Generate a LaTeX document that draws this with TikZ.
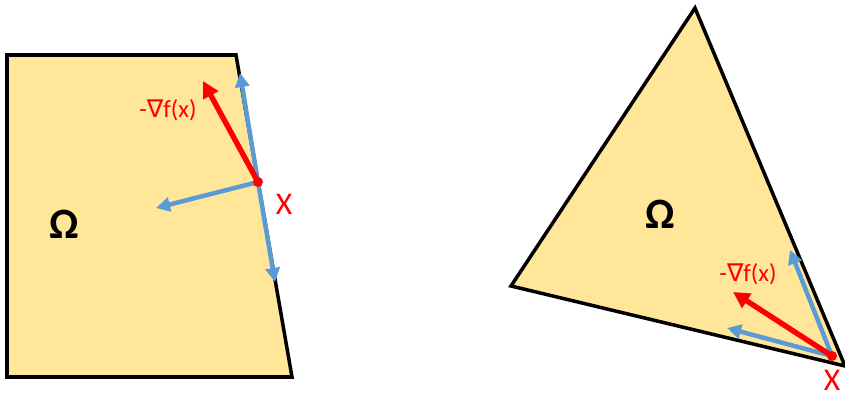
\documentclass[tikz,border=0pt]{standalone}
\usepackage{fontspec}
\setmainfont{Carlito}
\newfontfamily\symfont{DejaVu Sans}
\usepackage{tikz}
\usetikzlibrary{arrows.meta}
\definecolor{SetFill}{HTML}{FFE699}
\definecolor{DirBlue}{HTML}{5B9BD5}
\definecolor{GradRed}{HTML}{FF0000}

\tikzset{
  setedge/.style={draw=black, fill=SetFill, line width=3pt},
  feasdir/.style={DirBlue, line width=3.8pt, -{Triangle[length=12pt, width=12pt]}},
  graddir/.style={GradRed, line width=4.6pt, -{Triangle[length=14pt, width=14pt]}},
  gradlabel/.style={font=\fontsize{21}{21}\selectfont, text=GradRed, inner sep=0pt},
  pointlabel/.style={font=\fontsize{27}{27}\selectfont, text=GradRed, inner sep=0pt},
  setlabel/.style={font=\fontsize{37}{37}\selectfont\bfseries, inner sep=0pt}
}

\begin{document}
\begin{tikzpicture}[x=0.03cm, y=-0.03cm]
  \useasboundingbox (0,0) rectangle (845,396);

  %% Left set: quadrilateral
  \draw[setedge] (7,55) -- (236,55) -- (292,377) -- (7,377) -- cycle;
  \node[setlabel] (omegaL) at (64,224) {Ω};

  %% Boundary point and directions
  \coordinate (xL) at (258,182);
  \coordinate (upL) at (240,73);
  \coordinate (downL) at (275,282);
  \coordinate (inL) at (156,208);
  \coordinate (gradL) at (203,81);
  \draw[feasdir] (xL) -- (upL);
  \draw[feasdir] (xL) -- (downL);
  \draw[feasdir] (xL) -- (inL);
  \draw[graddir] (xL) -- (gradL);
  \fill[GradRed] (xL) circle (5);
  \node[gradlabel] (gradlabL) at (168,110) {-{\symfont∇}f(x)};
  \node[pointlabel] (ptL) at (284,204) {X};

  %% Right set: triangle
  \draw[setedge] (695,8) -- (511,286) -- (845,366) -- cycle;
  \node[setlabel] (omegaR) at (660,214) {Ω};

  %% Vertex point and directions
  \coordinate (xR) at (832,356);
  \coordinate (upR) at (790,250);
  \coordinate (inR) at (727,328);
  \coordinate (gradR) at (733,292);
  \draw[feasdir] (xR) -- (upR);
  \draw[feasdir] (xR) -- (inR);
  \draw[graddir] (xR) -- (gradR);
  \fill[GradRed] (xR) circle (5);
  \node[gradlabel] (gradlabR) at (748,274) {-{\symfont∇}f(x)};
  \node[pointlabel] (ptR) at (832,380) {X};
\end{tikzpicture}
\end{document}
